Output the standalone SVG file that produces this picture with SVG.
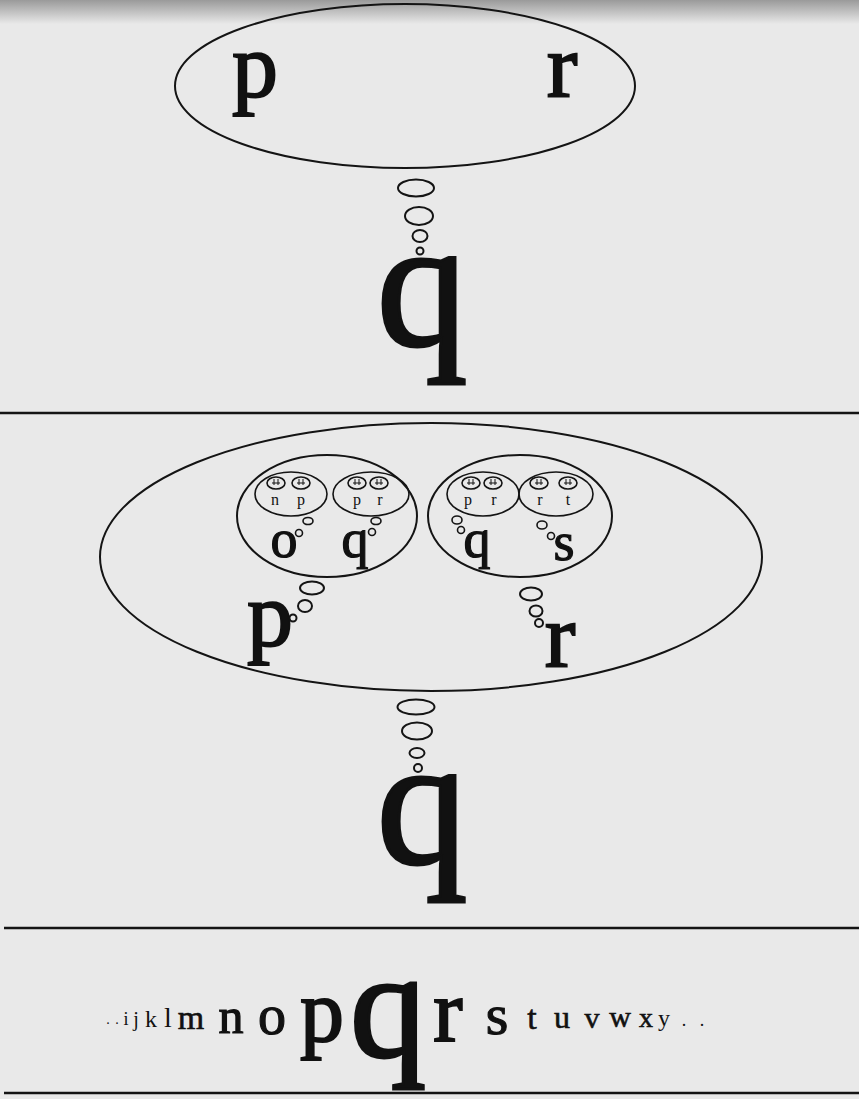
<svg xmlns="http://www.w3.org/2000/svg" width="859" height="1099" viewBox="0 0 859 1099">
<defs>
<style>
.bg{fill:#e9e9e9}
.el{fill:none;stroke:#141414;stroke-width:2}
.bb{fill:none;stroke:#141414;stroke-width:2}
.sb{fill:none;stroke:#141414;stroke-width:1.6}
.rule{stroke:#141414;stroke-width:2.5}
.t{font-family:"Liberation Serif","DejaVu Serif",serif;fill:#111;text-anchor:middle}
.h0{stroke:#111;stroke-width:0.6}
.h1{stroke:#111;stroke-width:1.2}
.h2{stroke:#111;stroke-width:2}
.h3{stroke:#111;stroke-width:3}
</style>
<linearGradient id="topband" x1="0" y1="0" x2="0" y2="1">
<stop offset="0" stop-color="#9a9a9a"/>
<stop offset="1" stop-color="#e9e9e9"/>
</linearGradient>
<g id="tiny">
<ellipse cx="0" cy="0" rx="9" ry="6" fill="none" stroke="#141414" stroke-width="1.6"/>
<path d="M-4,0 h8 M-2,-4 v6 M2,-4 v6" fill="none" stroke="#141414" stroke-width="1"/>
</g>
</defs>
<rect class="bg" x="0" y="0" width="859" height="1099"/>
<rect x="0" y="0" width="859" height="24" fill="url(#topband)"/>

<g id="rules">
<line class="rule" x1="0" y1="413" x2="859" y2="413"/>
<line class="rule" x1="4" y1="928" x2="859" y2="928"/>
<line class="rule" x1="4" y1="1093" x2="859" y2="1093"/>
</g>

<g id="top-thought">
<ellipse class="el" cx="405" cy="86" rx="230" ry="82"/>
<text class="t h2" x="255" y="97" font-size="92">p</text>
<text class="t h2" x="562" y="97" font-size="92">r</text>
</g>

<g id="connectors">
<ellipse class="bb" cx="416" cy="188" rx="18" ry="8.5"/>
<ellipse class="bb" cx="419" cy="216" rx="14" ry="9"/>
<ellipse class="bb" cx="420" cy="236" rx="7.5" ry="6"/>
<circle class="bb" cx="420" cy="251" r="3.5"/>

<ellipse class="bb" cx="416" cy="707" rx="18.5" ry="7.5"/>
<ellipse class="bb" cx="417" cy="731" rx="15" ry="8.5"/>
<ellipse class="bb" cx="417" cy="753" rx="7.5" ry="5"/>
<circle class="bb" cx="418" cy="768" r="4"/>

<ellipse class="bb" cx="312" cy="588" rx="12" ry="6.5"/>
<ellipse class="bb" cx="305" cy="606" rx="7" ry="6"/>
<circle class="bb" cx="293" cy="618" r="3.5"/>

<ellipse class="bb" cx="531" cy="594" rx="11" ry="6.5"/>
<ellipse class="bb" cx="536" cy="611" rx="6.5" ry="5.5"/>
<circle class="bb" cx="539" cy="623" r="4"/>

<ellipse class="sb" cx="308" cy="521" rx="5" ry="3.5"/>
<circle class="sb" cx="299" cy="533" r="3.5"/>
<ellipse class="sb" cx="376" cy="521" rx="5" ry="3.5"/>
<circle class="sb" cx="372" cy="532" r="3.5"/>
<ellipse class="sb" cx="457" cy="520" rx="5" ry="4"/>
<circle class="sb" cx="461" cy="530" r="3.5"/>
<ellipse class="sb" cx="542" cy="525" rx="5" ry="4"/>
<circle class="sb" cx="551" cy="536" r="3.5"/>
</g>

<g id="q-top">
<text class="t h3" x="422" y="345" font-size="182">q</text>
</g>

<g id="middle-thought">
<ellipse class="el" cx="431" cy="557" rx="331" ry="134"/>
<text class="t h2" x="270" y="646" font-size="92">p</text>
<text class="t h2" x="560" y="667" font-size="92">r</text>
</g>

<g id="left-inner">
<ellipse class="el" cx="327" cy="516" rx="90" ry="61"/>
<text class="t h1" x="284" y="557" font-size="54">o</text>
<text class="t h1" x="355" y="557" font-size="54">q</text>
</g>
<g id="left-inner-o">
<ellipse class="sb" cx="291" cy="494" rx="36" ry="22"/>
<use href="#tiny" x="276" y="483"/>
<use href="#tiny" x="301" y="483"/>
<text class="t" x="275" y="505" font-size="16">n</text>
<text class="t" x="301" y="505" font-size="16">p</text>
</g>
<g id="left-inner-q">
<ellipse class="sb" cx="371" cy="494" rx="38" ry="22"/>
<use href="#tiny" x="357" y="483"/>
<use href="#tiny" x="379" y="483"/>
<text class="t" x="357" y="505" font-size="16">p</text>
<text class="t" x="380" y="505" font-size="16">r</text>
</g>

<g id="right-inner">
<ellipse class="el" cx="520" cy="516" rx="92" ry="61"/>
<text class="t h1" x="477" y="557" font-size="54">q</text>
<text class="t h1" x="564" y="560" font-size="54">s</text>
</g>
<g id="right-inner-q">
<ellipse class="sb" cx="483" cy="494" rx="36" ry="22"/>
<use href="#tiny" x="471" y="483"/>
<use href="#tiny" x="493" y="483"/>
<text class="t" x="468" y="505" font-size="16">p</text>
<text class="t" x="494" y="505" font-size="16">r</text>
</g>
<g id="right-inner-s">
<ellipse class="sb" cx="556" cy="494" rx="37" ry="22"/>
<use href="#tiny" x="539" y="483"/>
<use href="#tiny" x="568" y="483"/>
<text class="t" x="540" y="505" font-size="16">r</text>
<text class="t" x="568" y="505" font-size="16">t</text>
</g>

<g id="q-middle">
<text class="t h3" x="422" y="863" font-size="182">q</text>
</g>

<g id="alphabet">
<text class="t" x="108" y="1024" font-size="14">.</text>
<text class="t" x="117" y="1024" font-size="14">.</text>
<text class="t" x="126" y="1025" font-size="18">i</text>
<text class="t" x="136" y="1026" font-size="20">j</text>
<text class="t" x="151" y="1027" font-size="24">k</text>
<text class="t" x="168" y="1027" font-size="28">l</text>
<text class="t h0" x="191" y="1029" font-size="34">m</text>
<text class="t h1" x="231" y="1033" font-size="50">n</text>
<text class="t h1" x="272" y="1034" font-size="56">o</text>
<text class="t h2" x="322" y="1041" font-size="88">p</text>
<text class="t h3" x="388" y="1056" font-size="152">q</text>
<text class="t h2" x="448" y="1041" font-size="88">r</text>
<text class="t h1" x="497" y="1034" font-size="58">s</text>
<text class="t h0" x="532" y="1029" font-size="34">t</text>
<text class="t h0" x="562" y="1028" font-size="32">u</text>
<text class="t h0" x="592" y="1028" font-size="30">v</text>
<text class="t h0" x="620" y="1027" font-size="30">w</text>
<text class="t h0" x="646" y="1027" font-size="28">x</text>
<text class="t" x="664" y="1026" font-size="24">y</text>
<text class="t" x="684" y="1026" font-size="18">.</text>
<text class="t" x="702" y="1026" font-size="18">.</text>
</g>
</svg>
